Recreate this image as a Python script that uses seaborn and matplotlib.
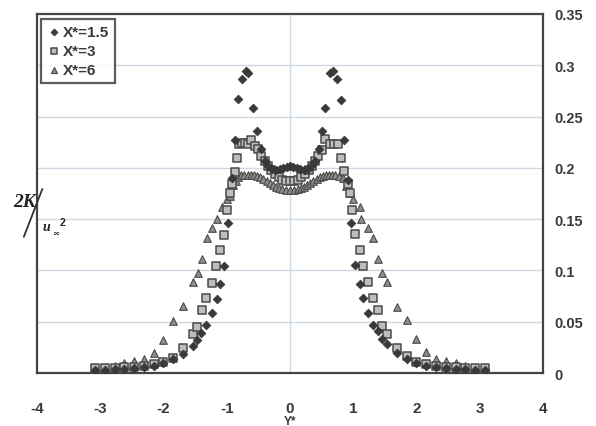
import pandas as pd
import matplotlib
matplotlib.use("Agg")
import matplotlib.pyplot as plt
import seaborn as sns
from matplotlib.lines import Line2D

# X* = 1.5 (diamonds)
y15 = [-3.08, -2.92, -2.77, -2.62, -2.46, -2.31, -2.15, -2.00, -1.85, -1.69,
       -1.54, -1.47, -1.40, -1.32, -1.24, -1.16, -1.10, -1.04, -0.98, -0.92,
       -0.87, -0.82, -0.765, -0.70, -0.66, -0.59, -0.52, -0.46, -0.40, -0.34,
       -0.28, -0.22, -0.16, -0.11, -0.05, 0.00,
       0.05, 0.11, 0.16, 0.22, 0.28, 0.34, 0.40, 0.46, 0.51, 0.56,
       0.64, 0.68, 0.75, 0.81, 0.86, 0.92, 0.965, 1.03, 1.10, 1.15,
       1.24, 1.31, 1.39, 1.46, 1.54, 1.69, 1.85, 2.00, 2.15, 2.31,
       2.46, 2.62, 2.77, 2.92, 3.08]
k15 = [0.003, 0.003, 0.004, 0.004, 0.005, 0.006, 0.007, 0.010, 0.014, 0.019,
       0.026, 0.032, 0.039, 0.047, 0.059, 0.072, 0.087, 0.104, 0.146, 0.190,
       0.227, 0.267, 0.287, 0.294, 0.292, 0.258, 0.236, 0.218, 0.207, 0.202,
       0.199, 0.198, 0.199, 0.200, 0.201, 0.202,
       0.201, 0.200, 0.199, 0.198, 0.199, 0.202, 0.207, 0.218, 0.236, 0.258,
       0.292, 0.294, 0.287, 0.266, 0.227, 0.188, 0.146, 0.105, 0.087, 0.073,
       0.059, 0.047, 0.041, 0.033, 0.028, 0.020, 0.014, 0.010, 0.007, 0.006,
       0.005, 0.004, 0.004, 0.003, 0.003]

# X* = 3 (squares)
y3 = [-3.08, -2.92, -2.77, -2.62, -2.46, -2.31, -2.15, -2.00, -1.85, -1.69,
      -1.54, -1.47, -1.39, -1.32, -1.24, -1.17, -1.11, -1.05, -0.99, -0.95,
      -0.92, -0.87, -0.83, -0.80, -0.76, -0.71, -0.66, -0.61, -0.55, -0.50,
      -0.45, -0.40, -0.35, -0.30, -0.24, -0.18, -0.12, -0.06, 0.00,
      0.06, 0.12, 0.18, 0.24, 0.30, 0.35, 0.40, 0.45, 0.50, 0.55,
      0.63, 0.70, 0.76, 0.80, 0.85, 0.92, 0.95, 0.98, 1.03, 1.10,
      1.16, 1.24, 1.31, 1.39, 1.46, 1.54, 1.69, 1.85, 2.00, 2.15,
      2.31, 2.46, 2.62, 2.77, 2.92, 3.08]
k3 = [0.005, 0.005, 0.005, 0.006, 0.006, 0.007, 0.009, 0.011, 0.015, 0.024,
      0.038, 0.045, 0.061, 0.073, 0.088, 0.104, 0.120, 0.135, 0.159, 0.175,
      0.184, 0.196, 0.210, 0.223, 0.224, 0.224, 0.223, 0.227, 0.221, 0.218,
      0.212, 0.207, 0.202, 0.198, 0.194, 0.191, 0.188, 0.187, 0.187,
      0.187, 0.188, 0.191, 0.194, 0.198, 0.202, 0.207, 0.212, 0.217, 0.228,
      0.223, 0.223, 0.223, 0.210, 0.197, 0.184, 0.175, 0.159, 0.136, 0.120,
      0.104, 0.089, 0.073, 0.061, 0.046, 0.038, 0.024, 0.017, 0.011, 0.009,
      0.007, 0.006, 0.006, 0.005, 0.005, 0.005]

# X* = 6 (triangles)
y6 = [-3.08, -2.92, -2.77, -2.62, -2.46, -2.31, -2.15, -2.00, -1.85, -1.69,
      -1.54, -1.46, -1.39, -1.31, -1.24, -1.16, -1.08, -1.00, -0.95, -0.90,
      -0.86, -0.82, -0.77, -0.72, -0.67, -0.62, -0.57, -0.52, -0.47, -0.42,
      -0.37, -0.32, -0.27, -0.22, -0.17, -0.12, -0.06, 0.00,
      0.06, 0.12, 0.17, 0.22, 0.27, 0.32, 0.37, 0.42, 0.47, 0.52,
      0.57, 0.62, 0.67, 0.72, 0.77, 0.84, 0.89, 0.95, 0.99, 1.10,
      1.13, 1.23, 1.31, 1.39, 1.46, 1.54, 1.69, 1.85, 2.00, 2.15,
      2.31, 2.46, 2.62, 2.77, 2.92, 3.08]
k6 = [0.004, 0.005, 0.007, 0.010, 0.012, 0.014, 0.020, 0.032, 0.051, 0.065,
      0.089, 0.098, 0.111, 0.132, 0.141, 0.150, 0.162, 0.170, 0.173, 0.183,
      0.187, 0.191, 0.193, 0.193, 0.193, 0.193, 0.193, 0.192, 0.191, 0.189,
      0.187, 0.185, 0.183, 0.181, 0.180, 0.179, 0.178, 0.178,
      0.178, 0.179, 0.180, 0.181, 0.183, 0.185, 0.187, 0.189, 0.191, 0.192,
      0.193, 0.193, 0.193, 0.193, 0.192, 0.190, 0.182, 0.175, 0.170, 0.162,
      0.150, 0.141, 0.132, 0.111, 0.098, 0.089, 0.064, 0.052, 0.033, 0.021,
      0.014, 0.012, 0.010, 0.007, 0.005, 0.004]

labels = ["X*=1.5", "X*=3", "X*=6"]

df = pd.concat([
    pd.DataFrame({"Y*": y15, "2K": k15, "series": labels[0]}),
    pd.DataFrame({"Y*": y3, "2K": k3, "series": labels[1]}),
    pd.DataFrame({"Y*": y6, "2K": k6, "series": labels[2]}),
])

sns.set_style("white")
plt.rcParams['font.family'] = ['Liberation Sans', 'DejaVu Sans']
plt.rcParams['axes.unicode_minus'] = False
txt = "#3a3a3a"

fig = plt.figure(figsize=(5.96, 4.27), dpi=100)
ax = fig.add_axes([0.062, 0.124, 0.849, 0.841])

styles = {
    labels[0]: dict(marker="D", s=20, color="#3a3a3a", edgecolor="#333333", linewidth=0.5),
    labels[1]: dict(marker="s", s=30, color="#bdbdbd", edgecolor="#4a4a4a", linewidth=1.1),
    labels[2]: dict(marker="^", s=30, color="#8e8e8e", edgecolor="#4a4a4a", linewidth=0.8),
}
for lab in labels[::-1]:
    sub = df[df["series"] == lab]
    sns.scatterplot(data=sub, x="Y*", y="2K", ax=ax, label=lab, zorder=3, **styles[lab])

ax.set_xlim(-4, 4)
ax.set_ylim(0, 0.35)
ax.set_xticks(range(-4, 5))
ax.set_yticks([0, 0.05, 0.1, 0.15, 0.2, 0.25, 0.3, 0.35])
ax.set_yticklabels(["0", "0.05", "0.1", "0.15", "0.2", "0.25", "0.3", "0.35"])
ax.yaxis.tick_right()
ax.grid(False)
for v in [0.05, 0.1, 0.15, 0.2, 0.25, 0.3]:
    ax.axhline(v, color="#cdd8e4", lw=1.0, zorder=0)
ax.axvline(0, color="#cdd8e4", lw=1.0, zorder=0)

ax.tick_params(axis="x", direction="out", length=5, width=0.8, color="#c8c8c8",
               pad=15, labelsize=11, labelcolor=txt)
ax.tick_params(axis="y", length=0, pad=8, labelsize=10.5, labelcolor=txt)
for lab in ax.get_xticklabels() + ax.get_yticklabels():
    lab.set_fontweight("bold")

for sp in ax.spines.values():
    sp.set_color("#444444")
    sp.set_linewidth(1.6)

ax.set_xlabel("Y*", fontsize=8.5, fontweight="bold", color=txt, labelpad=0)
ax.set_ylabel("")

# handles for legend in original order
handles, hl = ax.get_legend_handles_labels()
order = [hl.index(l) for l in labels]
leg = ax.legend([handles[i] for i in order], labels, loc="upper left",
                bbox_to_anchor=(0.008, 0.985), borderaxespad=0, frameon=True,
                fancybox=False, edgecolor="#333333", fontsize=11,
                handletextpad=0.1, handlelength=1.0, labelspacing=0.35,
                borderpad=0.35, markerscale=0.8)
leg.get_frame().set_linewidth(1.6)
for t in leg.get_texts():
    t.set_fontweight("bold")
    t.set_color(txt)

# y-axis label 2K / u_inf^2
fig.text(0.022, 0.515, "2K", family=["Liberation Serif", "DejaVu Serif"],
         fontsize=14, fontweight="bold", style="italic", color="#222222")
fig.add_artist(Line2D([0.040, 0.071], [0.443, 0.555], color="#333333", lw=1.3))
fig.text(0.072, 0.46, "u", family=["Liberation Serif", "DejaVu Serif"],
         fontsize=10, fontweight="bold", style="italic", color="#222222")
fig.text(0.088, 0.447, "\u221e", family=["DejaVu Serif"],
         fontsize=6, fontweight="bold", color="#222222")
fig.text(0.100, 0.47, "2", fontsize=7.5, fontweight="bold", color="#222222")

fig.savefig("out.png", dpi=100, facecolor="white")
